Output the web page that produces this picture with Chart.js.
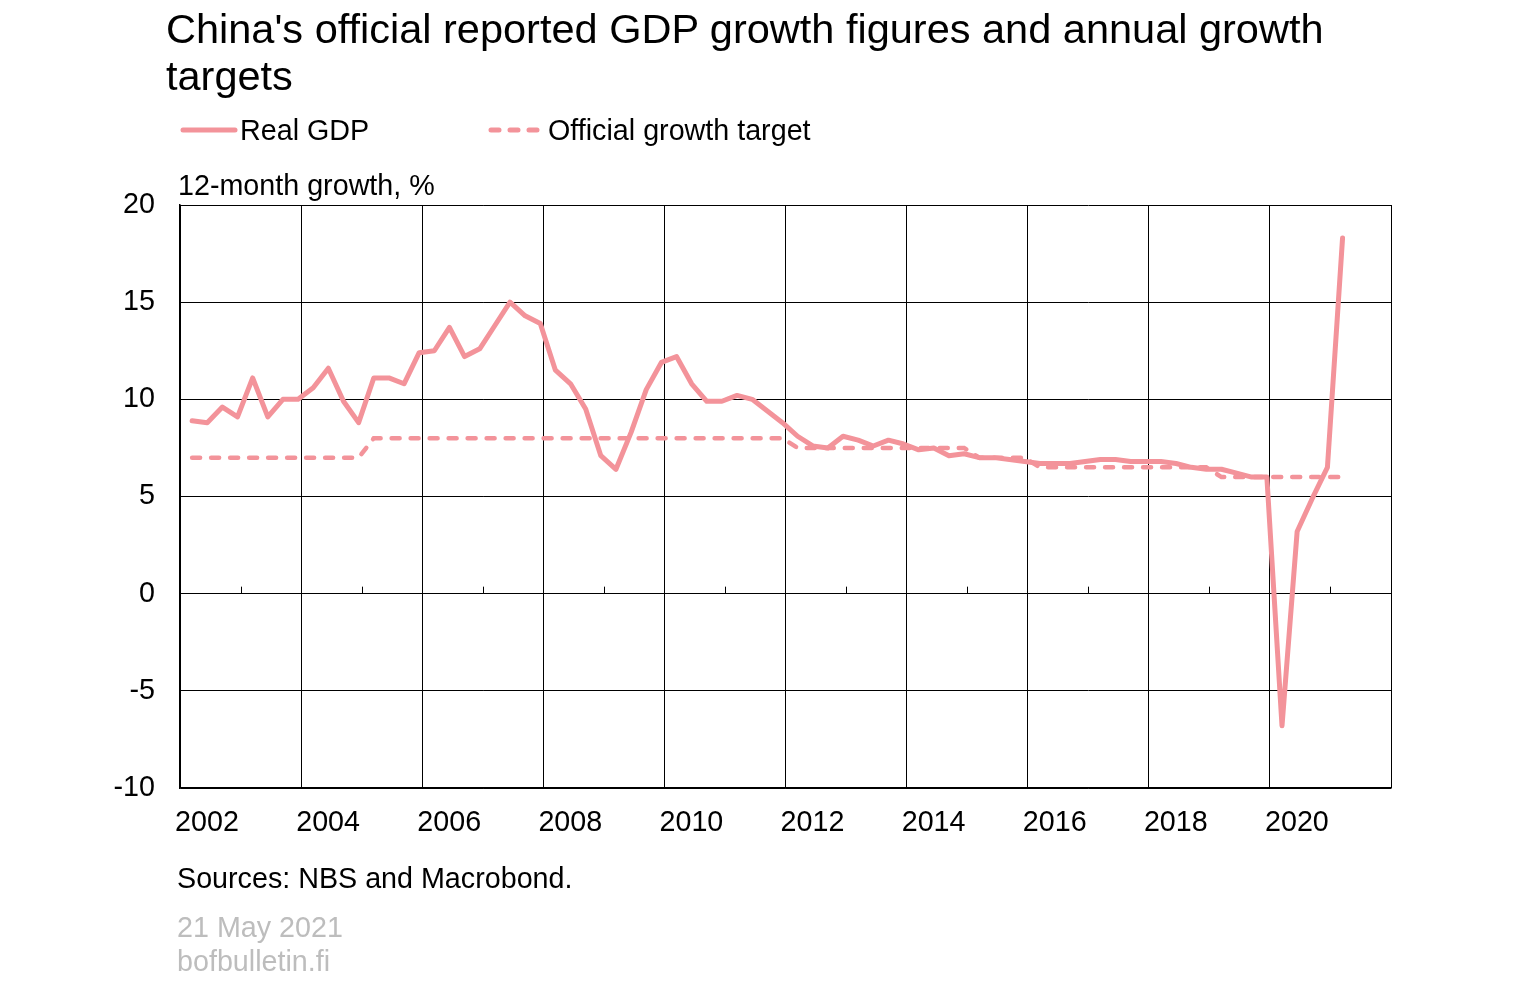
<!DOCTYPE html>
<html>
<head>
<meta charset="utf-8">
<script src="https://cdn.jsdelivr.net/npm/chart.js@4.4.1/dist/chart.umd.min.js"></script>
<style>
  body { margin: 0; background: #fff; font-family: "Liberation Sans", Arial, sans-serif; }
  #wrap { position: relative; width: 1514px; height: 989px; }
  #gdpChart { position: absolute; left: 0; top: 0; }
  .txt { position: absolute; white-space: nowrap; color: #000; }
  #title { left: 166px; top: 5px; font-size: 41.5px; line-height: 47px; }
  .leg { top: 112px; font-size: 28.7px; line-height: 36px; display: flex; align-items: center; }
  .leg svg { margin-right: 2px; }
  #ytitle { left: 178px; top: 167px; font-size: 28.7px; line-height: 36px; }
  #source { left: 177px; top: 860px; font-size: 28.7px; line-height: 36px; }
  .grey { color: #bdbdbd; font-size: 28.7px; line-height: 34px; left: 177px; }
</style>
</head>
<body>
<div id="wrap">
  <canvas id="gdpChart" width="1514" height="989"></canvas>
  <div class="txt" id="title">China's official reported GDP growth figures and annual growth<br>targets</div>
  <div class="txt leg" style="left:180px">
    <svg width="58" height="10"><line x1="3" y1="5" x2="55" y2="5" stroke="#F3939A" stroke-width="5" stroke-linecap="round"/></svg>Real GDP</div>
  <div class="txt leg" style="left:488px">
    <svg width="58" height="10"><line x1="3" y1="5" x2="55" y2="5" stroke="#F3939A" stroke-width="5" stroke-linecap="round" stroke-dasharray="8 11"/></svg>Official growth target</div>
  <div class="txt" id="ytitle">12-month growth, %</div>
  <div class="txt" id="source">Sources: NBS and Macrobond.</div>
  <div class="txt grey" style="top:910px">21 May 2021</div>
  <div class="txt grey" style="top:944px">bofbulletin.fi</div>
</div>
<script>
// kvartaalit 2002Q1 - 2021Q1
const quarters = [];
for (let y = 2002; y <= 2021; y++) {
    for (let q = 1; q <= 4; q++) {
        if (y === 2021 && q > 1) break;
        quarters.push(y + "Q" + q);
    }
}

// Real GDP, 12-month growth %
const gdpGrowth = [
    8.9, 8.8, 9.6, 9.1,     // 2002
    11.1, 9.1, 10.0, 10.0,  // 2003
    10.6, 11.6, 9.9, 8.8,   // 2004
    11.1, 11.1, 10.8, 12.4, // 2005
    12.5, 13.7, 12.2, 12.6, // 2006
    13.8, 15.0, 14.3, 13.9, // 2007
    11.5, 10.8, 9.5, 7.1,   // 2008
    6.4, 8.3, 10.5, 11.9,   // 2009
    12.2, 10.8, 9.9, 9.9,   // 2010
    10.2, 10.0, 9.4, 8.8,   // 2011
    8.1, 7.6, 7.5, 8.1,     // 2012
    7.9, 7.6, 7.9, 7.7,     // 2013
    7.4, 7.5, 7.1, 7.2,     // 2014
    7.0, 7.0, 6.9, 6.8,     // 2015
    6.7, 6.7, 6.7, 6.8,     // 2016
    6.9, 6.9, 6.8, 6.8,     // 2017
    6.8, 6.7, 6.5, 6.4,     // 2018
    6.4, 6.2, 6.0, 6.0,     // 2019
    -6.8, 3.2, 4.9, 6.5,    // 2020
    18.3                    // 2021
];

// Official growth target %
const growthTarget = [
    7, 7, 7, 7,  7, 7, 7, 7,  7, 7, 7, 7,                 // 2002-2004
    8, 8, 8, 8,  8, 8, 8, 8,  8, 8, 8, 8,  8, 8, 8, 8,    // 2005-2008
    8, 8, 8, 8,  8, 8, 8, 8,  8, 8, 8, 8,                 // 2009-2011
    7.5, 7.5, 7.5, 7.5,  7.5, 7.5, 7.5, 7.5,  7.5, 7.5, 7.5, 7.5, // 2012-2014
    7, 7, 7, 7,                                           // 2015
    6.5, 6.5, 6.5, 6.5,  6.5, 6.5, 6.5, 6.5,  6.5, 6.5, 6.5, 6.5, // 2016-2018
    6, 6, 6, 6,  6, 6, 6, 6,                              // 2019-2020
    6                                                     // 2021
];

const yTicks = [-10, -5, 0, 5, 10, 15, 20];
const lineColor = "#F3939A";

// kvartaali -> vuosiluku desimaalina (piste hieman ennen kvartaalin loppua)
function quarterToTime(label) {
    const [y, q] = label.split("Q").map(Number);
    return y + (q - 1) * 0.25 + 0.2;
}

const toPoints = values => values.map((v, i) => ({ x: quarterToTime(quarters[i]), y: v }));

// pienet tikit nollaviivalla parittomille vuosille
const zeroTicks = {
    id: "zeroTicks",
    beforeDatasetsDraw(chart) {
        const { ctx, scales: { x, y } } = chart;
        const y0 = y.getPixelForValue(0);
        ctx.save();
        ctx.strokeStyle = "#000";
        ctx.lineWidth = 1;
        for (let yr = 2003; yr < 2022; yr += 2) {
            const px = Math.round(x.getPixelForValue(yr)) + 0.5;
            ctx.beginPath();
            ctx.moveTo(px, y0);
            ctx.lineTo(px, y0 - 7);
            ctx.stroke();
        }
        ctx.restore();
    }
};

const ctx = document.getElementById("gdpChart").getContext("2d");
new Chart(ctx, {
    type: "line",
    data: {
        datasets: [
            {
                label: "Real GDP",
                data: toPoints(gdpGrowth),
                borderColor: lineColor,
                borderWidth: 5,
                pointRadius: 0,
                tension: 0,
                borderJoinStyle: "round",
                borderCapStyle: "round"
            },
            {
                label: "Official growth target",
                data: toPoints(growthTarget),
                borderColor: lineColor,
                borderWidth: 4.5,
                borderDash: [8, 11],
                borderCapStyle: "round",
                pointRadius: 0,
                tension: 0
            }
        ]
    },
    options: {
        responsive: false,
        animation: false,
        layout: { padding: { left: 0, top: 205, right: 123, bottom: 0 } },
        scales: {
            x: {
                type: "linear",
                min: 2002,
                max: 2022,
                afterFit: s => { s.height = 201; },
                grid: { color: "#000", lineWidth: 1, drawTicks: false },
                border: { color: "#000", width: 1.5 },
                ticks: {
                    stepSize: 2,
                    padding: 18,
                    labelOffset: 27,
                    maxRotation: 0,
                    color: "#000",
                    font: { family: "Liberation Sans", size: 28.7 },
                    callback: v => (v === 2022 ? "" : String(v))
                }
            },
            y: {
                min: -10,
                max: 20,
                afterFit: s => { s.width = 180; },
                afterBuildTicks: s => { s.ticks = yTicks.map(v => ({ value: v })); },
                grid: { color: "#000", lineWidth: 1, drawTicks: false },
                border: { color: "#000", width: 1.5 },
                ticks: {
                    padding: 25,
                    color: "#000",
                    font: { family: "Liberation Sans", size: 28.7 }
                }
            }
        },
        plugins: {
            legend: { display: false },
            tooltip: { enabled: false }
        }
    },
    plugins: [zeroTicks]
});
</script>
</body>
</html>
